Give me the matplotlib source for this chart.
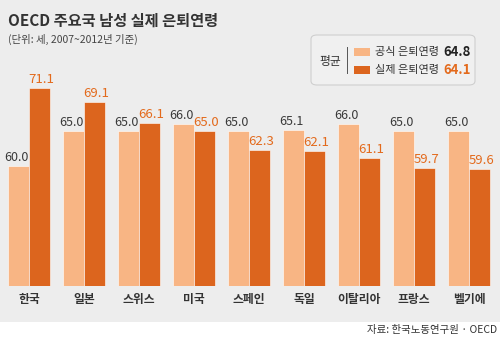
import numpy as np
import matplotlib.pyplot as plt
from matplotlib.patches import FancyBboxPatch, Rectangle

plt.rcParams['font.family'] = ['Noto Sans CJK KR', 'DejaVu Sans']

# 국가별 공식/실제 은퇴연령
countries = ['한국', '일본', '스위스', '미국', '스페인', '독일', '이탈리아', '프랑스', '벨기에']
official = [60.0, 65.0, 65.0, 66.0, 65.0, 65.1, 66.0, 65.0, 65.0]
actual = [71.1, 69.1, 66.1, 65.0, 62.3, 62.1, 61.1, 59.7, 59.6]
avg_official = 64.8
avg_actual = 64.1

LIGHT = '#f8b584'
DARK = '#dc651e'
ORANGE_TXT = '#e36a1c'
BG = '#ededed'

fig = plt.figure(figsize=(5, 3.38), dpi=100)
fig.patch.set_facecolor('white')
# 회색 배경 (하단 출처 영역 제외)
fig.patches.append(Rectangle((0, 16 / 338), 1, 1 - 16 / 338, transform=fig.transFigure,
                             facecolor=BG, edgecolor='none', zorder=-5))

ax = fig.add_axes([0, 52 / 338, 1, 286 / 338])
ax.set_zorder(3)
ax.set_facecolor('none')
x = np.arange(len(countries))
w = 0.375
ax.bar(x - 0.195, official, w, bottom=0, color=LIGHT, edgecolor='white', linewidth=0.4)
ax.bar(x + 0.195, actual, w, bottom=0, color=DARK, edgecolor='white', linewidth=0.4)
ax.set_xlim(-0.527, 8.564)
ax.set_ylim(42.93, 83.6)
ax.axis('off')

for i in range(len(countries)):
    ax.annotate(f'{official[i]:.1f}', (x[i] - 0.195, official[i]), xytext=(-1, 1.5),
                textcoords='offset points', ha='center', va='bottom',
                fontsize=9, color='#3a3a3a', annotation_clip=False)
    ax.annotate(f'{actual[i]:.1f}', (x[i] + 0.195, actual[i]), xytext=(1, 1.5),
                textcoords='offset points', ha='center', va='bottom',
                fontsize=9.5, color=ORANGE_TXT, annotation_clip=False)
    ax.annotate(countries[i], (x[i], 42.93), xytext=(0, -5),
                textcoords='offset points', ha='center', va='top',
                fontsize=8.5, color='#333333', fontweight='bold', annotation_clip=False)

# 제목
fig.text(8 / 500, 1 - 21 / 338, 'OECD 주요국 남성 실제 은퇴연령', fontsize=11,
         fontweight='bold', color='#333333', va='center')
fig.text(8 / 500, 1 - 39 / 338, '(단위: 세, 2007~2012년 기준)', fontsize=7.5,
         color='#444444', va='center')

# 범례 박스
fig.patches.append(FancyBboxPatch((311 / 500, 1 - 85 / 338), 164 / 500, 50 / 338,
                                  boxstyle='round,pad=0,rounding_size=0.012',
                                  transform=fig.transFigure, facecolor='#f0f0f0',
                                  edgecolor='#cfcfcf', linewidth=0.8, zorder=1))
fig.text(330 / 500, 1 - 61 / 338, '평균', fontsize=8.5, color='#333333',
         ha='center', va='center', zorder=2)
fig.add_artist(plt.Line2D([347 / 500, 347 / 500], [1 - 73 / 338, 1 - 47 / 338],
                          transform=fig.transFigure, color='#555555', linewidth=0.7))
rows = [('공식 은퇴연령', avg_official, LIGHT, '#222222'),
        ('실제 은퇴연령', avg_actual, DARK, ORANGE_TXT)]
for k, (lab, val, c, tc) in enumerate(rows):
    yc = 1 - (52 + 18 * k) / 338
    fig.patches.append(Rectangle((354 / 500, yc - 4 / 338), 16 / 500, 8 / 338,
                                 transform=fig.transFigure, facecolor=c,
                                 edgecolor='none', zorder=2))
    fig.text(375 / 500, yc, lab, fontsize=8, color='#333333', va='center', zorder=2)
    fig.text(443 / 500, yc, f'{val:.1f}', fontsize=9.5, color=tc,
             fontweight='bold', va='center', zorder=2)

# 출처
fig.text(497 / 500, 1 - 330 / 338, '자료: 한국노동연구원 · OECD', fontsize=7.5,
         color='#333333', ha='right', va='center')

fig.savefig('out.png', dpi=100, facecolor=fig.get_facecolor())
